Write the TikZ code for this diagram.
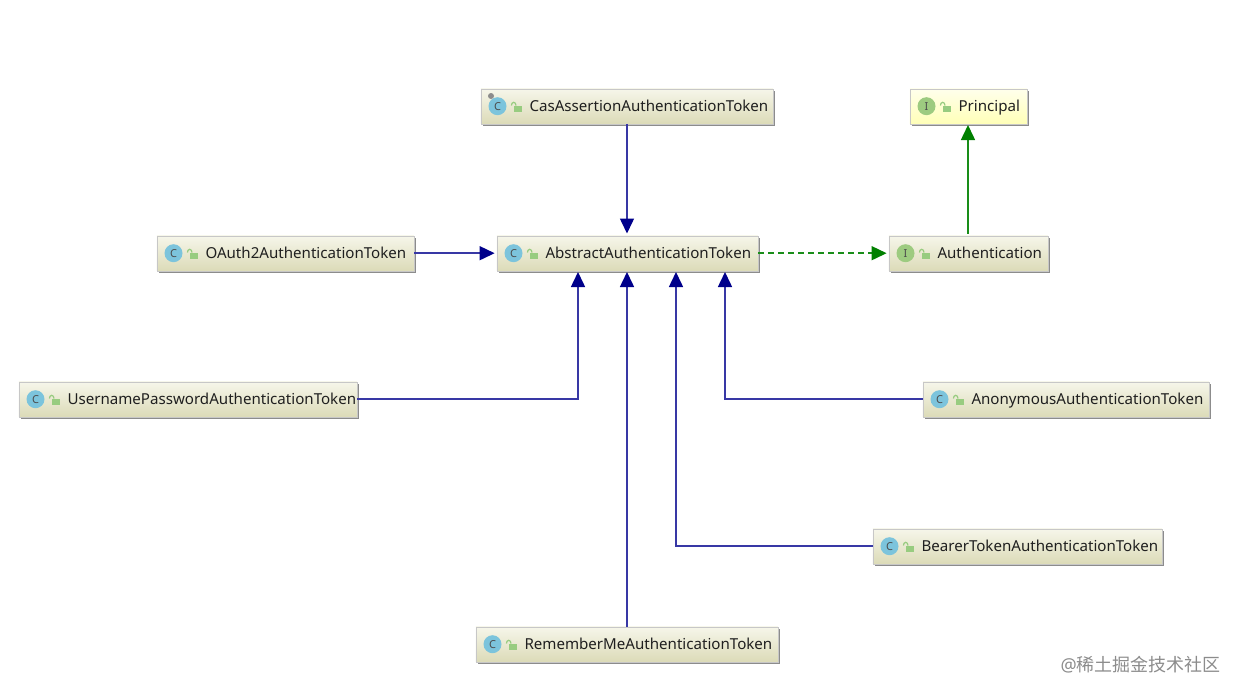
\documentclass[tikz,border=0pt]{standalone}
\usepackage{fontspec}
\setmainfont{Noto Sans}
\newfontfamily\cjk{Noto Sans CJK SC}
\usetikzlibrary{calc, positioning}
\usetikzlibrary{arrows.meta, shadows}
\definecolor{boxtop}{HTML}{F6F6EA}
\definecolor{boxbot}{HTML}{DCDBB8}
\definecolor{ifacetop}{HTML}{FFFFEC}
\definecolor{ifacebot}{HTML}{FFFFB8}
\definecolor{extblue}{HTML}{00008B}
\definecolor{implgreen}{HTML}{008000}
\definecolor{classic}{HTML}{7CC4DC}
\definecolor{ifaceic}{HTML}{9DCB80}
\definecolor{lockc}{HTML}{98CC80}
\tikzset{
  font=\fontsize{15.1}{18}\selectfont,
  % Class box
  tokenbox/.style={draw=black!22, top color=boxtop, bottom color=boxbot, shape=rectangle,
    minimum height=35pt, inner sep=0pt,
    drop shadow={shadow xshift=2pt, shadow yshift=-2pt, fill=black!50, opacity=0.9}},
  % Interface box
  facebox/.style={tokenbox, top color=ifacetop, bottom color=ifacebot},
  % Letter icons
  classicon/.style={shape=circle, fill=classic, minimum size=18pt, inner sep=0pt,
    text=black!70, font=\fontsize{11}{11}\selectfont},
  faceicon/.style={classicon, fill=ifaceic, font=\fontsize{11}{11}\selectfont\bfseries},
  % Box text
  boxtext/.style={anchor=base west, inner sep=0pt, text=black!88},
  % Arrows
  extends/.style={draw=extblue!78!white, line width=1.5pt, -{Triangle[length=15pt,width=14pt,color=extblue]}},
  inherits/.style={draw=implgreen!90!white, line width=1.5pt, -{Triangle[length=15pt,width=14pt,color=implgreen]}},
  implements/.style={inherits, dash pattern=on 6pt off 4pt},
}
% name, left, right, top, box style, icon style, letter, text
\newcommand{\tokennode}[8]{
  \node[#5, minimum width=#3pt-#2pt] (#1) at ({(#2+#3)/2-0.2},{#4+17.2}) {};
  \node[#6] (#1icon) at ({#2+16.5},{#4+17.2}) {#7};
  \fill[lockc] ({#2+33},{#4+16.5}) rectangle ({#2+40.5},{#4+23});
  \draw[lockc, line width=1.2pt] ({#2+35},{#4+16.5}) arc (0:-180:2.3 and 3.2);
  \node[boxtext] (#1text) at ({#2+48.3},{#4+22.7}) {#8};
}
\begin{document}
\begin{tikzpicture}[x=1pt, y=-1pt]
  \useasboundingbox (0,0) rectangle (1240,696);

  \tokennode{cas}{481}{773}{89}{tokenbox}{classicon}{C}{CasAssertionAuthenticationToken}
  \tokennode{principal}{910}{1027}{89}{facebox}{faceicon}{I}{Principal}
  \tokennode{oauth}{157}{414}{236}{tokenbox}{classicon}{C}{OAuth2AuthenticationToken}
  \tokennode{abstract}{497}{758}{236}{tokenbox}{classicon}{C}{AbstractAuthenticationToken}
  \tokennode{authn}{889}{1048}{236}{tokenbox}{faceicon}{I}{Authentication}
  \tokennode{username}{19}{357}{382}{tokenbox}{classicon}{C}{UsernamePasswordAuthenticationToken}
  \tokennode{anon}{923}{1209}{382}{tokenbox}{classicon}{C}{AnonymousAuthenticationToken}
  \tokennode{bearer}{873}{1162}{529}{tokenbox}{classicon}{C}{BearerTokenAuthenticationToken}
  \tokennode{remember}{476}{778}{627}{tokenbox}{classicon}{C}{RememberMeAuthenticationToken}

  % small mark on the Cas icon
  \fill[black!45] (491,96) circle (3);

  % landing points under the abstract box
  \coordinate (inuser) at (578,272);
  \coordinate (inremember) at (627,272);
  \coordinate (inbearer) at (676,272);
  \coordinate (inanon) at (725,272);
  \coordinate (inprincipal) at (968,125);

  \draw[extends, shorten >=2pt] (cas.south -| inremember) -- (abstract.north -| inremember);
  \draw[extends, shorten >=2pt] (oauth) -- (abstract);
  \draw[extends] (username.east) -| (inuser);
  \draw[extends] (remember.north -| inremember) -- (inremember);
  \draw[extends] (bearer.west) -| (inbearer);
  \draw[extends] (anon.west) -| (inanon);
  \draw[implements, shorten >=2pt] (abstract.east) -- (authn.west);
  \draw[inherits, shorten <=2pt] (authn.north -| inprincipal) -- (inprincipal);

  \node[anchor=east, inner sep=0pt, text=black!45, font=\fontsize{18}{20}\selectfont] (mark) at (1221,665) {@{\cjk 稀土掘金技术社区}};
\end{tikzpicture}
\end{document}
